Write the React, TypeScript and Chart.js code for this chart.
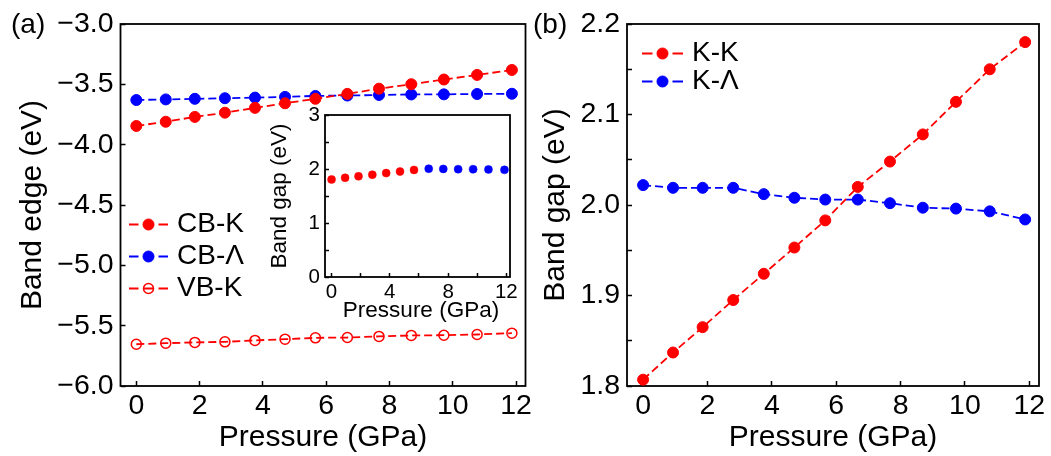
import React, { useEffect, useRef } from 'react';
import { Chart, registerables } from 'chart.js';

Chart.register(...registerables);

// ---------------- data ----------------
const PRESSURE = [0, 0.93, 1.85, 2.8, 3.75, 4.7, 5.66, 6.67, 7.67, 8.69, 9.72, 10.77, 11.87];
const CB_K = [-3.845, -3.81, -3.77, -3.735, -3.695, -3.657, -3.62, -3.579, -3.536, -3.499, -3.46, -3.422, -3.381];
const CB_LAMBDA = [-3.63, -3.625, -3.62, -3.615, -3.61, -3.604, -3.596, -3.593, -3.588, -3.584, -3.583, -3.58, -3.578];
const VB_K = [-5.654, -5.645, -5.639, -5.634, -5.622, -5.612, -5.601, -5.598, -5.589, -5.581, -5.579, -5.573, -5.562];
const GAP_KK = [1.807, 1.837, 1.865, 1.895, 1.924, 1.953, 1.983, 2.02, 2.048, 2.078, 2.114, 2.15, 2.18];
const GAP_KL = [2.022, 2.019, 2.019, 2.019, 2.012, 2.008, 2.006, 2.006, 2.002, 1.997, 1.996, 1.993, 1.984];
const INSET_DIRECT_COUNT = 7; // inset: first points are K-K (red), the rest K-Λ (blue)

const X_TICKS = [0, 2, 4, 6, 8, 10, 12];
const Y_TICKS_A = [-6, -5.5, -5, -4.5, -4, -3.5, -3];
const Y_TICKS_B = [1.8, 1.85, 1.9, 1.95, 2.0, 2.05, 2.1, 2.15, 2.2];
const Y_LABELS_B = [1.8, 1.9, 2.0, 2.1, 2.2];
const INSET_X_TICKS = [0, 2, 4, 6, 8, 10, 12];
const INSET_X_LABELS = [0, 4, 8, 12];
const INSET_Y_TICKS = [0, 0.5, 1, 1.5, 2, 2.5, 3];
const INSET_Y_LABELS = [0, 1, 2, 3];

const LEGEND_A = ['CB-K', 'CB-\u039B', 'VB-K'];
const LEGEND_B = ['K-K', 'K-\u039B'];
const X_TITLE = 'Pressure (GPa)';
const Y_TITLE_A = 'Band edge (eV)';
const Y_TITLE_B = 'Band gap (eV)';

// ---------------- styles ----------------
const FONT = '"Liberation Sans", Arial, Helvetica, sans-serif';
const RED = 'rgb(255,0,0)';
const BLUE = 'rgb(0,0,255)';
const M = 40;

type Box = { x0: number; y0: number; x1: number; y1: number };
type Area = { l: number; t: number; r: number; b: number };
type Sty = { color: string; filled: boolean; radius: number; pbw: number };

const S_CBK: Sty = { color: RED, filled: true, radius: 5.5, pbw: 1 };
const S_CBL: Sty = { color: BLUE, filled: true, radius: 5.5, pbw: 1 };
const S_VBK: Sty = { color: RED, filled: false, radius: 5, pbw: 1.5 };

const pts = (xs: number[], ys: number[]) => xs.map((x, i) => ({ x, y: ys[i] }));
const isIn = (v: number, arr: number[]) => arr.some((a) => Math.abs(a - v) < 1e-6);

function lineDs(label: string, xs: number[], ys: number[], s: Sty) {
  return {
    label,
    data: pts(xs, ys),
    showLine: true,
    borderColor: s.color,
    borderWidth: 1.8,
    borderDash: [8, 4],
    fill: false,
    tension: 0,
    pointRadius: s.radius,
    pointBackgroundColor: s.filled ? s.color : 'rgba(0,0,0,0)',
    pointBorderColor: s.color,
    pointBorderWidth: s.pbw,
  };
}

function drawLegendEntry(ctx: CanvasRenderingContext2D, x1: number, x2: number, y: number, dash: number, s: Sty, text: string, tx: number, size: number) {
  const mx = (x1 + x2) / 2;
  ctx.save();
  ctx.strokeStyle = s.color;
  ctx.lineWidth = 1.8;
  ctx.setLineDash([]);
  ctx.beginPath();
  ctx.moveTo(x1, y);
  ctx.lineTo(x1 + dash, y);
  ctx.moveTo(x2 - dash, y);
  ctx.lineTo(x2, y);
  ctx.moveTo(mx - s.radius, y);
  ctx.lineTo(mx + s.radius, y);
  ctx.stroke();
  ctx.beginPath();
  ctx.arc(mx, y, s.radius, 0, Math.PI * 2);
  if (s.filled) {
    ctx.fillStyle = s.color;
    ctx.fill();
  }
  ctx.lineWidth = s.pbw;
  ctx.stroke();
  ctx.fillStyle = '#000';
  ctx.font = `${size}px ${FONT}`;
  ctx.textAlign = 'left';
  ctx.textBaseline = 'middle';
  ctx.fillText(text, tx, y);
  ctx.restore();
}

function drawLabel(ctx: CanvasRenderingContext2D, text: string, x: number, y: number, size: number, align: CanvasTextAlign = 'left', rot = 0) {
  ctx.save();
  ctx.fillStyle = '#000';
  ctx.font = `${size}px ${FONT}`;
  ctx.textAlign = align;
  ctx.textBaseline = 'middle';
  ctx.translate(x, y);
  if (rot) ctx.rotate(rot);
  ctx.fillText(text, 0, 0);
  ctx.restore();
}

interface Spec {
  box: Box;
  area: Area;
  xMin: number; xMax: number; yMin: number; yMax: number;
  xTicks: number[]; yTicks: number[];
  xFmt: (v: number) => string; yFmt: (v: number) => string;
  tickSize: number; tickLen: number; xPad: number; yPad: number;
  titleSize: number; xTitle: string; yTitle: string; xTitlePad: number; yTitlePad: number;
  showTitles: boolean;
  datasets: any[];
  draw?: (ctx: CanvasRenderingContext2D) => void;
}

function canvasRect(box: Box) {
  return { left: box.x0 - M, top: box.y0 - M, width: box.x1 - box.x0 + 2 * M, height: box.y1 - box.y0 + 2 * M };
}

function makeChart(canvas: HTMLCanvasElement, sp: Spec) {
  const ox = sp.box.x0 - M;
  const oy = sp.box.y0 - M;
  const tickFont = { family: FONT, size: sp.tickSize };
  const titleFont = { family: FONT, size: sp.titleSize };
  const grid = { drawOnChartArea: false, drawTicks: true, tickLength: sp.tickLen, tickWidth: 1.5, tickColor: '#000' };
  const config: any = {
    type: 'line',
    data: { datasets: sp.datasets },
    options: {
      responsive: false,
      animation: false,
      devicePixelRatio: 1,
      events: [],
      layout: {
        padding: { left: M, top: M + sp.area.t - sp.box.y0, right: M + sp.box.x1 - sp.area.r, bottom: M },
      },
      plugins: { legend: { display: false }, tooltip: { enabled: false } },
      scales: {
        x: {
          type: 'linear',
          position: 'bottom',
          min: sp.xMin,
          max: sp.xMax,
          afterBuildTicks: (s: any) => { s.ticks = sp.xTicks.map((v) => ({ value: v })); },
          afterFit: (s: any) => { s.height = sp.box.y1 - sp.area.b; },
          grid,
          border: { display: false },
          ticks: { autoSkip: false, maxRotation: 0, minRotation: 0, padding: sp.xPad, color: '#000', font: tickFont, callback: (v: any) => sp.xFmt(Number(v)) },
          title: { display: sp.showTitles, text: sp.xTitle, color: '#000', font: titleFont, padding: { top: 0, bottom: sp.xTitlePad } },
        },
        y: {
          type: 'linear',
          position: 'left',
          min: sp.yMin,
          max: sp.yMax,
          afterBuildTicks: (s: any) => { s.ticks = sp.yTicks.map((v) => ({ value: v })); },
          afterFit: (s: any) => { s.width = sp.area.l - sp.box.x0; },
          grid,
          border: { display: false },
          ticks: { autoSkip: false, padding: sp.yPad, color: '#000', font: tickFont, callback: (v: any) => sp.yFmt(Number(v)) },
          title: { display: sp.showTitles, text: sp.yTitle, color: '#000', font: titleFont, padding: { top: sp.yTitlePad, bottom: 0 } },
        },
      },
    },
    plugins: [
      {
        id: 'frame',
        beforeDatasetsDraw(chart: any) {
          const { ctx, chartArea: a } = chart;
          ctx.save();
          ctx.strokeStyle = '#000';
          ctx.lineWidth = 1.8;
          ctx.setLineDash([]);
          ctx.strokeRect(a.left, a.top, a.right - a.left, a.bottom - a.top);
          ctx.restore();
        },
      },
      {
        id: 'overlay',
        afterDraw(chart: any) {
          if (!sp.draw) return;
          const ctx = chart.ctx as CanvasRenderingContext2D;
          ctx.save();
          ctx.translate(-ox, -oy);
          sp.draw(ctx);
          ctx.restore();
        },
      },
    ],
  };
  return new Chart(canvas, config);
}

const BOX_A: Box = { x0: 0, y0: 0, x1: 530, y1: 456 };
const AREA_A: Area = { l: 120.5, t: 24, r: 525.5, b: 386 };
const BOX_B: Box = { x0: 530, y0: 0, x1: 1051, y1: 456 };
const AREA_B: Area = { l: 627, t: 24, r: 1039, b: 386 };
const BOX_I: Box = { x0: 260, y0: 100, x1: 525, y1: 330 };
const AREA_I: Area = { l: 325, t: 115, r: 510, b: 277 };

export default function App() {
  const refA = useRef<HTMLCanvasElement>(null);
  const refB = useRef<HTMLCanvasElement>(null);
  const refI = useRef<HTMLCanvasElement>(null);

  useEffect(() => {
    const charts: Chart[] = [];
    const fmtA = (v: number) => v.toFixed(1).replace('-', '\u2212');
    charts.push(
      makeChart(refA.current!, {
        box: BOX_A, area: AREA_A,
        xMin: -0.5, xMax: 12.3, yMin: -6, yMax: -3,
        xTicks: X_TICKS, yTicks: Y_TICKS_A,
        xFmt: (v) => String(v), yFmt: fmtA,
        tickSize: 28.5, tickLen: -5, xPad: 8.4, yPad: 12,
        titleSize: 30, xTitle: X_TITLE, yTitle: Y_TITLE_A, xTitlePad: 0.5, yTitlePad: 15,
        showTitles: true,
        datasets: [
          lineDs(LEGEND_A[0], PRESSURE, CB_K, S_CBK),
          lineDs(LEGEND_A[1], PRESSURE, CB_LAMBDA, S_CBL),
          lineDs(LEGEND_A[2], PRESSURE, VB_K, S_VBK),
        ],
        draw: (ctx) => {
          drawLabel(ctx, '(a)', 11, 25, 28);
          const ys = [224.5, 256.5, 288.5];
          const st = [S_CBK, S_CBL, S_VBK];
          LEGEND_A.forEach((t, i) => drawLegendEntry(ctx, 129, 168, ys[i], 9.5, st[i], t, 177, 28));
        },
      })
    );
    charts.push(
      makeChart(refB.current!, {
        box: BOX_B, area: AREA_B,
        xMin: -0.5, xMax: 12.3, yMin: 1.8, yMax: 2.2,
        xTicks: X_TICKS, yTicks: Y_TICKS_B,
        xFmt: (v) => String(v), yFmt: (v) => (isIn(v, Y_LABELS_B) ? v.toFixed(1) : ''),
        tickSize: 28.5, tickLen: -5, xPad: 8.4, yPad: 12,
        titleSize: 30, xTitle: X_TITLE, yTitle: Y_TITLE_B, xTitlePad: 0.5, yTitlePad: 8,
        showTitles: true,
        datasets: [
          lineDs(LEGEND_B[0], PRESSURE, GAP_KK, S_CBK),
          lineDs(LEGEND_B[1], PRESSURE, GAP_KL, S_CBL),
        ],
        draw: (ctx) => {
          drawLabel(ctx, '(b)', 533, 25, 28);
          const ys = [53.5, 81.5];
          const st = [S_CBK, S_CBL];
          LEGEND_B.forEach((t, i) => drawLegendEntry(ctx, 642, 683, ys[i], 10.5, st[i], t, 692, 28));
        },
      })
    );
    charts.push(
      makeChart(refI.current!, {
        box: BOX_I, area: AREA_I,
        xMin: -0.45, xMax: 12.25, yMin: 0, yMax: 3,
        xTicks: INSET_X_TICKS, yTicks: INSET_Y_TICKS,
        xFmt: (v) => (isIn(v, INSET_X_LABELS) ? String(v) : ''),
        yFmt: (v) => (isIn(v, INSET_Y_LABELS) ? String(v) : ''),
        tickSize: 20.5, tickLen: -4, xPad: 7, yPad: 9,
        titleSize: 22, xTitle: X_TITLE, yTitle: Y_TITLE_B, xTitlePad: 6.3, yTitlePad: 7.8,
        showTitles: false,
        datasets: [
          {
            label: 'K-K',
            data: pts(PRESSURE.slice(0, INSET_DIRECT_COUNT), GAP_KK.slice(0, INSET_DIRECT_COUNT)),
            showLine: false,
            pointRadius: 4,
            pointBackgroundColor: RED,
            pointBorderColor: RED,
            pointBorderWidth: 0.5,
          },
          {
            label: 'K-\u039B',
            data: pts(PRESSURE.slice(INSET_DIRECT_COUNT), GAP_KL.slice(INSET_DIRECT_COUNT)),
            showLine: false,
            pointRadius: 4,
            pointBackgroundColor: BLUE,
            pointBorderColor: BLUE,
            pointBorderWidth: 0.5,
          },
        ],
        draw: (ctx) => {
          drawLabel(ctx, X_TITLE, 421, 311, 22.5, 'center');
          drawLabel(ctx, Y_TITLE_B, 280, (AREA_I.t + AREA_I.b) / 2, 22.5, 'center', -Math.PI / 2);
        },
      })
    );
    return () => charts.forEach((c) => c.destroy());
  }, []);

  const ra = canvasRect(BOX_A);
  const rb = canvasRect(BOX_B);
  const ri = canvasRect(BOX_I);
  const cs = (r: any): React.CSSProperties => ({ position: 'absolute', left: r.left, top: r.top, width: r.width, height: r.height });

  return (
    <div style={{ position: 'fixed', left: 0, top: 0, width: 1051, height: 456, overflow: 'hidden', background: '#fff' }}>
      <canvas ref={refA} width={ra.width} height={ra.height} style={cs(ra)} />
      <canvas ref={refB} width={rb.width} height={rb.height} style={cs(rb)} />
      <canvas ref={refI} width={ri.width} height={ri.height} style={cs(ri)} />
    </div>
  );
}
